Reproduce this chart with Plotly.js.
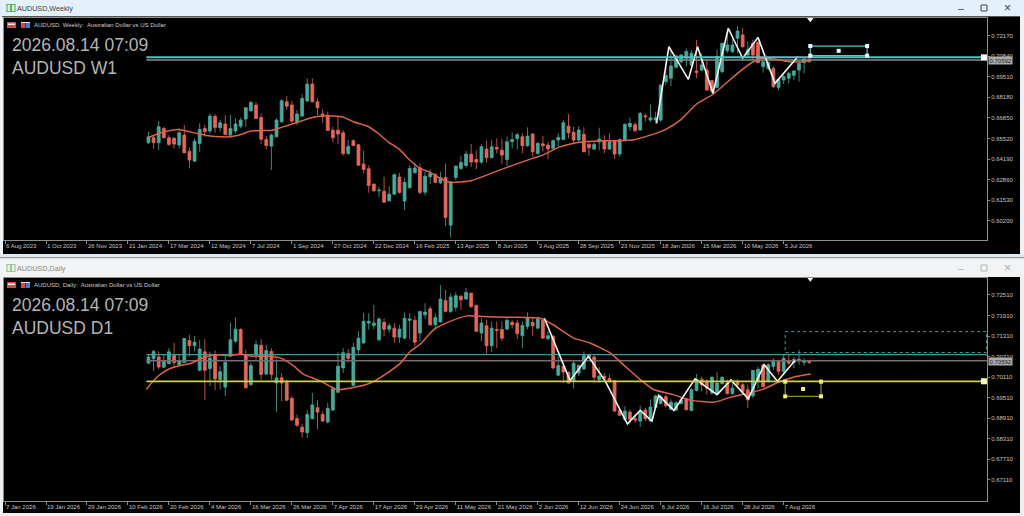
<!DOCTYPE html>
<html><head><meta charset="utf-8">
<script src="https://cdn.plot.ly/plotly-3.0.1.min.js"></script>
<style>html,body{margin:0;padding:0;background:#f0f0f0;overflow:hidden}#c{width:1024px;height:516px}</style>
</head><body><div id="c"></div>
<script>
const wkOpen=[.6525,.6557,.6525,.6617,.6557,.6553,.6510,.6574,.6469,.6406,.6520,.6617,.6600,.6695,.6622,.6645,.6574,.6600,.6632,.6678,.6731,.6768,.6688,.6546,.6503,.6563,.6660,.6789,.6768,.6660,.6697,.6794,.6904,.6789,.6710,.6703,.6606,.6606,.6589,.6456,.6538,.6512,.6387,.6357,.6258,.6215,.6212,.6150,.6193,.6303,.6148,.6234,.6331,.6363,.6206,.6305,.6320,.6266,.6301,.5993,.6301,.6359,.6378,.6452,.6417,.6400,.6484,.6428,.6495,.6477,.6417,.6531,.6551,.6564,.6505,.6581,.6456,.6518,.6510,.6488,.6542,.6546,.6632,.6592,.6542,.6579,.6514,.6484,.6531,.6538,.6484,.6536,.6452,.6542,.6628,.6641,.6607,.6699,.6671,.6671,.6671,.6919,.6941,.7012,.7048,.7070,.7027,.6988,.6994,.6994,.6926,.6882,.6984,.7119,.7113,.7199,.7221,.7091,.7167,.7173,.7016,.7005,.7005,.6882,.6930,.6941,.6960,.6994,.7042,.7063];
const wkHigh=[.6596,.6574,.6667,.6628,.6574,.6563,.6617,.6639,.6495,.6553,.6650,.6639,.6714,.6710,.6671,.6703,.6703,.6682,.6688,.6753,.6796,.6785,.6714,.6568,.6585,.6682,.6805,.6826,.6796,.6736,.6839,.6940,.6940,.6811,.6740,.6725,.6628,.6693,.6606,.6542,.6546,.6516,.6473,.6380,.6262,.6240,.6305,.6245,.6327,.6331,.6301,.6380,.6395,.6391,.6337,.6353,.6327,.6338,.6391,.6279,.6378,.6441,.6473,.6516,.6477,.6516,.6538,.6542,.6553,.6549,.6564,.6592,.6589,.6589,.6624,.6585,.6531,.6568,.6531,.6546,.6585,.6671,.6710,.6628,.6632,.6624,.6531,.6531,.6622,.6574,.6585,.6542,.6553,.6650,.6688,.6660,.6725,.6714,.6772,.6725,.6898,.7037,.7128,.7091,.7098,.7134,.7124,.7188,.7102,.7059,.6930,.7124,.7167,.7231,.7199,.7279,.7264,.7177,.7188,.7177,.7059,.7048,.7016,.6941,.6962,.6984,.6994,.7059,.7070,.7081];
const wkLow=[.6516,.6486,.6477,.6553,.6503,.6488,.6488,.6456,.6359,.6402,.6467,.6563,.6585,.6589,.6596,.6574,.6570,.6585,.6617,.6628,.6725,.6675,.6516,.6482,.6348,.6559,.6654,.6736,.6650,.6639,.6693,.6789,.6785,.6703,.6654,.6600,.6531,.6516,.6439,.6445,.6503,.6374,.6327,.6202,.6208,.6176,.6137,.6144,.6187,.6197,.6090,.6230,.6327,.6193,.6184,.6258,.6262,.6258,.5987,.5913,.6284,.6348,.6365,.6370,.6355,.6387,.6396,.6424,.6456,.6387,.6374,.6488,.6482,.6456,.6499,.6434,.6445,.6467,.6417,.6484,.6499,.6542,.6553,.6521,.6525,.6462,.6441,.6477,.6477,.6456,.6477,.6419,.6434,.6538,.6602,.6594,.6602,.6660,.6660,.6650,.6661,.6898,.6891,.7005,.7037,.7016,.7016,.6941,.6984,.6859,.6844,.6876,.6973,.7102,.7102,.7102,.7134,.7076,.7059,.7037,.6977,.6994,.6876,.6865,.6904,.6908,.6930,.6919,.6973,.7042];
const wkClose=[.6563,.6525,.6628,.6557,.6514,.6516,.6589,.6460,.6413,.6535,.6611,.6596,.6697,.6624,.6654,.6578,.6617,.6645,.6671,.6751,.6785,.6682,.6548,.6507,.6574,.6671,.6796,.6761,.6665,.6710,.6811,.6904,.6789,.6751,.6701,.6604,.6557,.6581,.6456,.6501,.6507,.6380,.6352,.6249,.6215,.6219,.6141,.6193,.6318,.6204,.6268,.6359,.6361,.6204,.6309,.6327,.6269,.6301,.6043,.6273,.6374,.6398,.6452,.6400,.6400,.6499,.6428,.6499,.6484,.6445,.6531,.6546,.6577,.6505,.6568,.6467,.6520,.6505,.6484,.6538,.6559,.6654,.6589,.6542,.6607,.6467,.6493,.6514,.6549,.6484,.6531,.6452,.6546,.6643,.6650,.6602,.6714,.6693,.6686,.6686,.6898,.6958,.7020,.7085,.7091,.7113,.7102,.6979,.7027,.6865,.6859,.7081,.7167,.7156,.7156,.7246,.7145,.7124,.7091,.7042,.7048,.7044,.6887,.6936,.6951,.6973,.6988,.7038,.7066,.7048];
const wkMaBar=[1,3,5,7,9,11,13,15,17,19,21,23,25,27,29,31,33,35,37,39,41,44,46,48,50,52,54,56,58,60,64,67,71,76,78,81,83,86,90,93,96,99,102,105,108,111,113,116,119,121,123,126,129,130];
const wkMa=[.6559,.6585,.6602,.6611,.6596,.6581,.6568,.6563,.6563,.6578,.6600,.6604,.6604,.6624,.6645,.6667,.6688,.6697,.6697,.6690,.6660,.6628,.6581,.6525,.6482,.6413,.6359,.6333,.6294,.6269,.6279,.6316,.6366,.6424,.6445,.6495,.6514,.6531,.6538,.6538,.6546,.6574,.6611,.6676,.6775,.6833,.6887,.6973,.7046,.7070,.7066,.7048,.7048,.7059];
const wkZigBar=[100.2,102.6,106.4,108.2,111.2,114.2,117,120,123.3,127.8];
const wkZig=[.6650,.7145,.6934,.7145,.6844,.7264,.7070,.7205,.6908,.7081];
const wkLevels=[.7076,.7059];
const wkBoxBar=[130.2,141.3];
const wkBoxPrice=[.7149,.7087];
const wkTickVals=[0.72170,0.70840,0.69510,0.68180,0.66850,0.65520,0.64190,0.62860,0.61530,0.60200];
const wkDates=["6 Aug 2023","1 Oct 2023","26 Nov 2023","21 Jan 2024","17 Mar 2024","12 May 2024","7 Jul 2024","1 Sep 2024","27 Oct 2024","22 Dec 2024","16 Feb 2025","13 Apr 2025","8 Jun 2025","3 Aug 2025","28 Sep 2025","23 Nov 2025","18 Jan 2026","15 Mar 2026","10 May 2026","5 Jul 2026"];

const dyOpen=[.7052,.7065,.7070,.7040,.7051,.7074,.7048,.7054,.7118,.7103,.7031,.7085,.7036,.7076,.7004,.6982,.7072,.7116,.7150,.7074,.6989,.7077,.7104,.7020,.7086,.6994,.7009,.6996,.6949,.6890,.6865,.6849,.6890,.6922,.6902,.6880,.6915,.6967,.7038,.7080,.6987,.7091,.7111,.7169,.7162,.7120,.7171,.7151,.7154,.7128,.7125,.7177,.7177,.7140,.7193,.7211,.7164,.7172,.7235,.7203,.7215,.7247,.7239,.7256,.7221,.7140,.7161,.7103,.7150,.7150,.7151,.7171,.7169,.7132,.7159,.7171,.7154,.7177,.7123,.7130,.7017,.7043,.7025,.6999,.7023,.7035,.7070,.7070,.7004,.7014,.7007,.7001,.6915,.6888,.6909,.6890,.6883,.6915,.6883,.6922,.6934,.6954,.6917,.6915,.6934,.6948,.6914,.6972,.7005,.6999,.6965,.6965,.6992,.6994,.6963,.6999,.6989,.6974,.6957,.6999,.7047,.6999,.7042,.7057,.7028,.7060,.7054,.7060,.7054,.7057];
const dyHigh=[.7077,.7091,.7086,.7077,.7096,.7111,.7077,.7124,.7135,.7132,.7120,.7122,.7086,.7089,.7043,.7072,.7171,.7186,.7154,.7091,.7053,.7118,.7122,.7106,.7096,.7064,.7023,.7004,.6956,.6902,.6876,.6915,.6965,.6944,.6912,.6936,.6985,.7084,.7096,.7093,.7111,.7145,.7198,.7198,.7222,.7186,.7183,.7169,.7169,.7164,.7200,.7198,.7190,.7203,.7227,.7219,.7198,.7280,.7266,.7256,.7259,.7251,.7271,.7258,.7222,.7183,.7179,.7174,.7174,.7174,.7183,.7177,.7179,.7174,.7200,.7186,.7188,.7183,.7145,.7135,.7072,.7052,.7028,.7062,.7048,.7086,.7080,.7074,.7041,.7023,.7019,.7002,.6922,.6926,.6917,.6902,.6928,.6922,.6946,.6960,.6960,.6960,.6946,.6941,.6951,.6950,.6979,.7020,.7013,.7005,.7013,.7025,.7013,.7005,.6999,.7005,.6994,.6989,.7032,.7042,.7050,.7052,.7066,.7062,.7076,.7076,.7071,.7091,.7066,.7060];
const dyLow=[.7051,.7028,.7035,.7038,.7048,.7041,.7045,.7052,.7072,.7086,.7028,.6944,.6985,.6973,.6975,.6956,.7070,.7111,.7074,.6978,.6987,.7062,.7004,.7019,.7004,.6909,.6941,.6941,.6883,.6866,.6834,.6834,.6888,.6859,.6880,.6876,.6912,.6965,.7023,.7053,.6985,.7077,.7109,.7150,.7151,.7116,.7130,.7140,.7111,.7111,.7122,.7122,.7101,.7116,.7181,.7161,.7150,.7171,.7200,.7198,.7203,.7208,.7237,.7213,.7143,.7116,.7080,.7084,.7096,.7117,.7150,.7154,.7122,.7096,.7150,.7132,.7151,.7123,.7120,.7035,.7014,.6994,.6992,.6978,.7014,.7033,.7062,.6994,.6994,.7004,.6994,.6909,.6897,.6883,.6873,.6878,.6866,.6883,.6880,.6917,.6931,.6922,.6915,.6912,.6931,.6914,.6911,.6969,.6969,.6960,.6960,.6960,.6989,.6960,.6960,.6984,.6963,.6921,.6950,.6979,.6979,.6994,.7032,.7018,.7018,.7047,.7037,.7047,.7044,.7049];
const dyClose=[.7070,.7086,.7041,.7059,.7085,.7054,.7059,.7124,.7103,.7113,.7093,.7031,.7067,.7006,.7027,.7054,.7120,.7151,.7077,.6980,.7045,.7106,.7019,.7089,.7019,.7009,.6994,.6944,.6886,.6871,.6851,.6902,.6930,.6909,.6883,.6920,.6977,.7043,.7082,.7066,.7098,.7125,.7174,.7174,.7169,.7181,.7151,.7161,.7128,.7151,.7183,.7181,.7113,.7203,.7201,.7164,.7185,.7239,.7203,.7245,.7249,.7237,.7258,.7217,.7145,.7169,.7103,.7154,.7148,.7125,.7177,.7164,.7138,.7162,.7185,.7161,.7181,.7125,.7132,.7038,.7045,.7026,.6994,.7052,.7045,.7074,.7074,.7011,.7014,.7008,.7000,.6912,.6900,.6912,.6888,.6886,.6907,.6890,.6924,.6956,.6954,.6928,.6938,.6936,.6944,.6916,.6974,.7005,.6989,.6979,.7011,.6994,.7011,.6963,.6979,.6988,.6969,.6945,.7031,.7034,.6984,.7047,.7060,.7028,.7066,.7052,.7063,.7063,.7060,.7054];
const dyMaBar=[.6,1.7,3,5,7.2,9.2,11.1,13.7,17,19,21,24.8,27.1,29.4,31.3,34.6,37.8,41.7,44.3,47.6,50.2,52.1,54.1,56.7,59.9,63.2,66.4,71,77.5,80,84,87.2,91.1,94.4,97,99.6,103.5,106.8,111.3,114.6,117.8,121.1,123.6,126.9,130.3];
const dyMa=[.6975,.6996,.7016,.7035,.7045,.7051,.7064,.7076,.7074,.7079,.7072,.7072,.7065,.7043,.7019,.7000,.6975,.6983,.6994,.7023,.7052,.7086,.7108,.7150,.7174,.7190,.7188,.7186,.7183,.7164,.7125,.7111,.7082,.7038,.7004,.6975,.6960,.6944,.6938,.6952,.6963,.6976,.6994,.7011,.7020];
const dyZigBar=[78.3,83.3,86.9,90.2,94.5,97,99.3,100.6,103.6,107.7,112,114.7,118.1,121.2,123.8,127.2];
const dyZig=[.7183,.7001,.7072,.6999,.6875,.6914,.6883,.6958,.6914,.7006,.6960,.7003,.6948,.7047,.6999,.7060];
const dyLevels=[.7077,.7059,.6999];
const dyBoxBar=[125.3,132.3];
const dyBoxPrice=[.6998,.6955];
const dyDashBar=[125.3,164.6];
const dyDashPrice=[.7144,.7083];
const dyTickVals=[0.72510,0.71910,0.71310,0.70710,0.70110,0.69510,0.68910,0.68310,0.67710,0.67110];
const dyDates=["7 Jan 2026","19 Jan 2026","29 Jan 2026","10 Feb 2026","20 Feb 2026","4 Mar 2026","16 Mar 2026","26 Mar 2026","7 Apr 2026","17 Apr 2026","29 Apr 2026","11 May 2026","21 May 2026","2 Jun 2026","12 Jun 2026","24 Jun 2026","6 Jul 2026","16 Jul 2026","28 Jul 2026","7 Aug 2026"];
const tickBars=[-27,-19,-11,-3,5,13,21,29,37,45,53,61,69,77,85,93,101,109,117,125];

const W=1024,H=516;
const px=x=>x/W, py=y=>1-y/H;
const UP='#4aa99c', DN='#e3685a', MA='#d9644a', ZIG='#f4f4f4';
const XR=[-27.2,164.7];
const bars=a=>a.map((_,i)=>i+1);
function candle(o,h,l,c,xa,ya){return {type:'candlestick',x:bars(o),open:o,high:h,low:l,close:c,xaxis:xa,yaxis:ya,whiskerwidth:0,
  increasing:{line:{color:UP,width:0.8},fillcolor:UP},decreasing:{line:{color:DN,width:0.8},fillcolor:DN},hoverinfo:'skip',showlegend:false};}
function line(x,y,xa,ya,color,width,extra){return Object.assign({type:'scatter',mode:'lines',x,y,xaxis:xa,yaxis:ya,line:{color,width},hoverinfo:'skip',showlegend:false},extra||{});}
function pts(x,y,xa,ya,color,size,sym){return {type:'scatter',mode:'markers',x,y,xaxis:xa,yaxis:ya,marker:{color,size,symbol:sym||'square'},hoverinfo:'skip',showlegend:false,cliponaxis:false};}
function box(bx,by,xa,ya,color,width,dash){return line([bx[0],bx[1],bx[1],bx[0],bx[0]],[by[0],by[0],by[1],by[1],by[0]],xa,ya,color,width,dash?{line:{color,width,dash}}:{});}
function corners(bx,by,xa,ya,color,size){return pts([bx[0],bx[1],bx[0],bx[1],(bx[0]+bx[1])/2],[by[0],by[0],by[1],by[1],(by[0]+by[1])/2],xa,ya,color,size);}

const data=[
 line(XR.map((v,i)=>i?v:0.6),[wkLevels[1],wkLevels[1]],'x','y','#8a8a8a',1.6),
 candle(wkOpen,wkHigh,wkLow,wkClose,'x','y'),
 line(wkMaBar,wkMa,'x','y',MA,1.5,{line:{color:MA,width:1.5,shape:'spline',smoothing:.5}}),
 line(wkZigBar,wkZig,'x','y',ZIG,1.6),
 line(XR.map((v,i)=>i?v:0.6),[wkLevels[0],wkLevels[0]],'x','y','#4fc3c4',2),
 box(wkBoxBar,wkBoxPrice,'x','y','#59c9c9',1.2),
 corners(wkBoxBar,wkBoxPrice,'x','y','#e8ffff',4),
 pts([164.1],[wkLevels[0]],'x','y','#ffffff',6),
 pts([130.2],[0.7322],'x','y','#ffffff',6,'triangle-down'),

 line(XR.map((v,i)=>i?v:0.6),[dyLevels[0],dyLevels[0]],'x2','y2','#3f9a9b',1.2),
 line(XR.map((v,i)=>i?v:0.6),[dyLevels[1],dyLevels[1]],'x2','y2','#6f6f6f',1.6),
 candle(dyOpen,dyHigh,dyLow,dyClose,'x2','y2'),
 line(dyMaBar,dyMa,'x2','y2',MA,1.5,{line:{color:MA,width:1.5,shape:'spline',smoothing:.5}}),
 line(dyZigBar,dyZig,'x2','y2',ZIG,1.6),
 line(XR.map((v,i)=>i?v:0.6),[dyLevels[2],dyLevels[2]],'x2','y2','#d1d13a',1.8),
 box(dyDashBar,dyDashPrice,'x2','y2','#3f9a9b',1,'dot'),
 line([dyBoxBar[0],dyBoxBar[0],dyBoxBar[1],dyBoxBar[1]],[dyBoxPrice[0],dyBoxPrice[1],dyBoxPrice[1],dyBoxPrice[0]],'x2','y2','#8f8f26',1.2),
 corners(dyBoxBar,dyBoxPrice,'x2','y2','#f2f27a',4),
 pts([164.1],[dyLevels[2]],'x2','y2','#ffffc0',6),
 pts([130.2],[0.7298],'x2','y2','#ffffff',6,'triangle-down')
];

function yax(dom,rng,vals,anchor){return {domain:dom,range:rng,side:'right',anchor,tickmode:'array',tickvals:vals,tickformat:'.5f',
  showgrid:false,zeroline:false,showline:true,mirror:true,linecolor:'#8c8c8c',linewidth:1,ticks:'outside',ticklen:2,tickcolor:'#8c8c8c',
  tickfont:{family:'Liberation Sans, Arial, sans-serif',size:6,color:'#c4c4c4'},fixedrange:true};}
function xax(text,anchor){return {domain:[px(4),px(987)],range:XR,anchor,tickmode:'array',tickvals:tickBars,ticktext:text,
  showgrid:false,zeroline:false,showline:true,mirror:true,linecolor:'#8c8c8c',linewidth:1,ticks:'outside',ticklen:3,tickcolor:'#8c8c8c',
  ticklabelposition:'outside right',tickangle:0,tickfont:{family:'Liberation Sans, Arial, sans-serif',size:6,color:'#c4c4c4'},
  rangeslider:{visible:false},fixedrange:true};}

function rect(x0,y0,x1,y1,fill,lineColor,layer){return {type:'rect',xref:'paper',yref:'paper',x0:px(x0),x1:px(x1),y0:py(y0),y1:py(y1),fillcolor:fill,line:{width:lineColor?1:0,color:lineColor||fill},layer:layer||'below'};}
function note(x,y,text,size,color,extra){return Object.assign({xref:'paper',yref:'paper',x:px(x),y:py(y),text,showarrow:false,xanchor:'left',yanchor:'middle',
  font:{family:'Liberation Sans, Arial, sans-serif',size,color}},extra||{});}
function hdrIcons(y){return [rect(7,y,16,y+6,'#d84a4a'),rect(8,y+1.5,15,y+3,'#f0f0f0'),rect(21,y,25,y+6,'#d84a4a'),rect(25.5,y,30,y+6,'#3f7fd0'),rect(21,y,30,y+1,'#f0f0f0')];}
function winIcon(y,c){return [
 {type:'rect',xref:'paper',yref:'paper',x0:px(7),x1:px(10.5),y0:py(y-3.5),y1:py(y+3.5),line:{color:c,width:1.2},fillcolor:'rgba(0,0,0,0)',layer:'below'},
 {type:'rect',xref:'paper',yref:'paper',x0:px(11.5),x1:px(15),y0:py(y-3.5),y1:py(y+3.5),line:{color:c,width:1.2},fillcolor:'rgba(0,0,0,0)',layer:'below'}];}

const shapes=[
 rect(0,0,1024,16,'#e4f0fb'),
 rect(0,16,1024,254,'#eef2f6'),
 rect(2,16,1020,17,'#555555'),
 rect(3,17,1020,254,'#000000'),
 rect(0,254,1024,257,'#dfe8f0'),
 rect(0,257,1024,258.5,'#9a9a9a'),
 rect(0,258.5,1024,277,'#f1f3f4'),
 rect(0,277,1024,516,'#f0f0f0'),
 rect(3,277,1020,513,'#000000'),
 ...hdrIcons(22),...hdrIcons(282),
 ...winIcon(8,'#57b84a'),...winIcon(268,'#9ac994'),
 rect(958,9,964,9.8,'#444444'),
 {type:'rect',xref:'paper',yref:'paper',x0:px(981),x1:px(987),y0:py(5),y1:py(11),line:{color:'#444444',width:1},fillcolor:'rgba(0,0,0,0)',layer:'below'},
 rect(958,269,964,269.8,'#b5b5b5'),
 {type:'rect',xref:'paper',yref:'paper',x0:px(981),x1:px(987),y0:py(265),y1:py(271),line:{color:'#b5b5b5',width:1},fillcolor:'rgba(0,0,0,0)',layer:'below'}
];
const annotations=[
 note(15,8,'AUDUSD,Weekly',7.2,'#404040'),
 note(15,268,'AUDUSD,Daily',7.2,'#8a8a8a'),
 note(32,25,'AUDUSD, Weekly:  Australian Dollar vs US Dollar',6,'#c8c8c8'),
 note(32,285,'AUDUSD, Daily:  Australian Dollar vs US Dollar',6,'#c8c8c8'),
 note(10,45,'2026.08.14 07:09',17.5,'#b4b4b4'),
 note(10,68,'AUDUSD W1',17.5,'#b4b4b4'),
 note(10,305,'2026.08.14 07:09',17.5,'#b4b4b4'),
 note(10,328,'AUDUSD D1',17.5,'#b4b4b4'),
 note(1002,8,'×',12,'#404040'),
 note(1002,268,'×',12,'#b0b0b0'),
 note(988,60.5,'0.70592',6,'#1e1e1e',{bgcolor:'#a9a9a9',borderpad:0.5}),
 note(988,361,'0.70592',6,'#1e1e1e',{bgcolor:'#a9a9a9',borderpad:0.5})
];
const layout={width:W,height:H,margin:{l:0,r:0,t:0,b:0},paper_bgcolor:'#f0f0f0',plot_bgcolor:'#000000',showlegend:false,boxgap:0.2,
 xaxis:xax(wkDates,'y'),yaxis:yax([py(240),py(18)],[0.5897,0.7330],wkTickVals,'x'),
 xaxis2:xax(dyDates,'y2'),yaxis2:yax([py(500.5),py(277.5)],[0.6651,0.7302],dyTickVals,'x2'),
 shapes,annotations,hovermode:false};
Plotly.newPlot('c',data,layout,{staticPlot:true,displayModeBar:false});
</script></body></html>
